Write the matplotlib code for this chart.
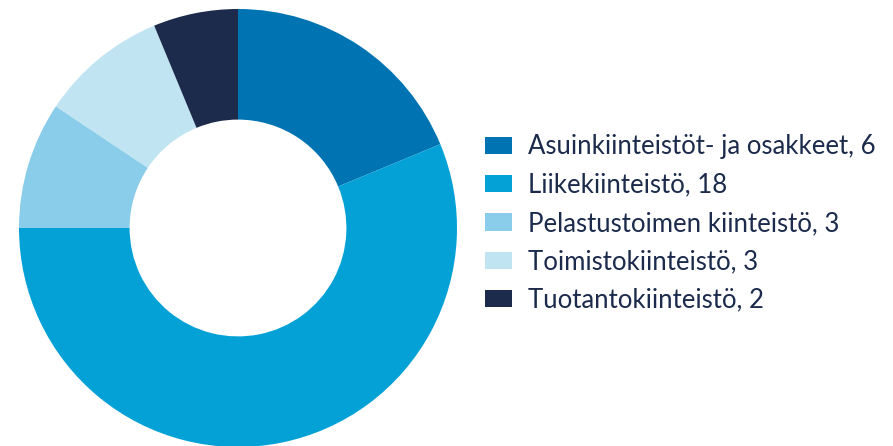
import matplotlib.pyplot as plt

# Kiinteistöt tyypeittäin
labels = ['Asuinkiinteistöt- ja osakkeet', 'Liikekiinteistö', 'Pelastustoimen kiinteistö',
          'Toimistokiinteistö', 'Tuotantokiinteistö']
counts = [6, 18, 3, 3, 2]
colors = ['#0074b3', '#04a1d7', '#89cdea', '#c0e4f2', '#1c2b4c']

plt.rcParams['font.family'] = ['Lato', 'DejaVu Sans']

fig = plt.figure(figsize=(8.93, 4.46), dpi=100)

# donut centred at (238, 228) px, radius 219 px
W, H = 893, 446
r = 219
ax = fig.add_axes([(238 - r) / W, (H - 228 - r) / H, 2 * r / W, 2 * r / H])
wedges, _ = ax.pie(counts, colors=colors, startangle=90, counterclock=False,
                   radius=1, wedgeprops=dict(width=0.505, linewidth=0))
ax.set_xlim(-1, 1)
ax.set_ylim(-1, 1)
ax.set_aspect('equal')
ax.axis('off')

leg_labels = [f'{l}, {c}' for l, c in zip(labels, counts)]
leg = fig.legend(wedges, leg_labels, loc='center left',
                 bbox_to_anchor=(485 / W, (H - 223.5) / H),
                 frameon=False, fontsize=18.5, handlelength=1.05, handleheight=0.66,
                 handletextpad=0.62, labelspacing=0.52, borderpad=0, borderaxespad=0)
for t in leg.get_texts():
    t.set_color('#1c2b4c')

fig.savefig('out.png', dpi=100)
